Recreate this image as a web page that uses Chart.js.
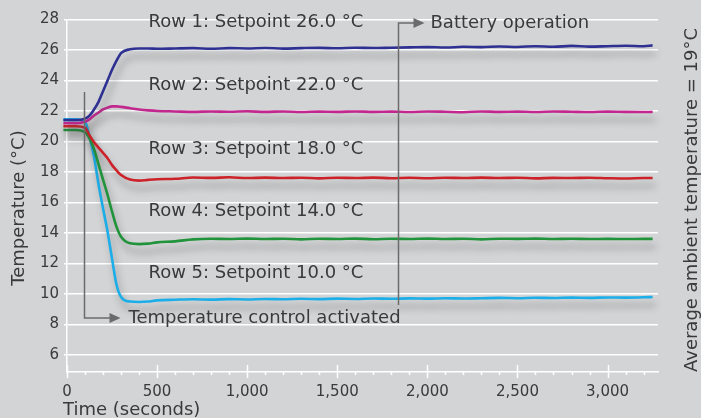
<!DOCTYPE html>
<html>
<head>
<meta charset="utf-8">
<title>Row temperatures</title>
<script src="https://cdn.jsdelivr.net/npm/chart.js@4"></script>
<style>
  html, body { margin: 0; padding: 0; background: #d3d4d6; }
  canvas { display: block; }
</style>
</head>
<body>
<canvas id="tempChart" width="701" height="418"></canvas>
<script>
// time in seconds (first point sits just left of the axis, like the original)
const times = [-20, 0, 50, 100, 125, 150, 175, 200, 225, 250, 275, 300, 350, 400, 450, 500,
  600, 700, 800, 900, 1000, 1100, 1200, 1300, 1400, 1500, 1600, 1700, 1800, 1900, 2000,
  2100, 2200, 2300, 2400, 2500, 2600, 2700, 2800, 2900, 3000, 3100, 3200, 3250];

const row1 = [21.4, 21.4, 21.4, 21.5, 21.7, 22.1, 22.6, 23.3, 24.0, 24.7, 25.3, 25.8, 26.05, 26.1, 26.1, 26.08,
  26.1, 26.12, 26.08, 26.12, 26.1, 26.13, 26.09, 26.12, 26.14, 26.11, 26.15, 26.13, 26.15, 26.17, 26.19,
  26.16, 26.21, 26.19, 26.23, 26.2, 26.25, 26.21, 26.27, 26.22, 26.25, 26.28, 26.25, 26.3];
const row2 = [21.2, 21.2, 21.2, 21.3, 21.45, 21.7, 21.9, 22.1, 22.22, 22.3, 22.3, 22.27, 22.18, 22.1, 22.04, 22.0,
  21.97, 21.94, 21.97, 21.95, 21.98, 21.94, 21.97, 21.93, 21.96, 21.94, 21.97, 21.94, 21.96, 21.93, 21.97,
  21.95, 21.92, 21.97, 21.94, 21.96, 21.93, 21.97, 21.95, 21.93, 21.96, 21.94, 21.93, 21.94];
const row3 = [21.0, 21.0, 21.0, 20.9, 20.4, 19.95, 19.6, 19.25, 18.9, 18.45, 18.1, 17.8, 17.5, 17.43, 17.48, 17.52,
  17.55, 17.64, 17.61, 17.65, 17.6, 17.63, 17.6, 17.62, 17.58, 17.62, 17.6, 17.63, 17.59, 17.62, 17.59,
  17.62, 17.6, 17.63, 17.6, 17.62, 17.58, 17.61, 17.6, 17.62, 17.59, 17.57, 17.6, 17.6];
const row4 = [20.75, 20.75, 20.75, 20.6, 20.2, 19.5, 18.5, 17.5, 16.5, 15.4, 14.4, 13.75, 13.32, 13.27, 13.3, 13.38,
  13.45, 13.58, 13.62, 13.6, 13.63, 13.6, 13.62, 13.58, 13.62, 13.6, 13.63, 13.59, 13.62, 13.6, 13.63,
  13.6, 13.62, 13.58, 13.62, 13.61, 13.63, 13.6, 13.62, 13.6, 13.61, 13.6, 13.61, 13.61];
const row5 = [21.45, 21.45, 21.45, 21.3, 20.3, 19.0, 17.2, 15.6, 14.1, 12.3, 10.6, 9.8, 9.5, 9.47, 9.5, 9.58,
  9.62, 9.65, 9.63, 9.66, 9.64, 9.67, 9.65, 9.68, 9.66, 9.69, 9.67, 9.7, 9.68, 9.71, 9.69,
  9.72, 9.7, 9.72, 9.74, 9.72, 9.75, 9.73, 9.76, 9.74, 9.77, 9.76, 9.78, 9.8];

const seriesNames = ["Row 1", "Row 2", "Row 3", "Row 4", "Row 5"];
const rowLabels = ["Row 1: Setpoint 26.0 °C", "Row 2: Setpoint 22.0 °C", "Row 3: Setpoint 18.0 °C",
  "Row 4: Setpoint 14.0 °C", "Row 5: Setpoint 10.0 °C"];
const rowLabelTemps = [27.84, 23.7, 19.5, 15.4, 11.35];
const rowLabelTime = 452;

const xTicks = [0, 500, 1000, 1500, 2000, 2500, 3000];
const yTicks = [6, 7, 8, 9, 10, 11, 12, 13, 14, 15, 16, 17, 18, 19, 20, 21, 22, 23, 24, 25, 26, 27, 28];

// events marked with arrows
const controlTime = 95;    // temperature control activated
const batteryTime = 1835;  // battery operation

const colors = ["#2e3192", "#c2278e", "#cc2229", "#21933b", "#1baee8"];
const bg = "#d3d4d6";
const textColor = "#3a3a3a";
const arrowColor = "#6b6b6b";

function toPoints(values) {
  return values.map((v, i) => ({ x: times[i], y: v }));
}

const allRows = [row1, row2, row3, row4, row5];

// paint background
const backgroundPlugin = {
  id: "background",
  beforeDraw(chart) {
    const ctx = chart.ctx;
    ctx.save();
    ctx.fillStyle = bg;
    ctx.fillRect(0, 0, chart.width, chart.height);
    ctx.restore();
  },
};

// soft drop shadow under each line
const shadowPlugin = {
  id: "lineShadow",
  beforeDatasetDraw(chart) {
    const ctx = chart.ctx;
    ctx.save();
    ctx.shadowColor = "rgba(70,70,70,0.45)";
    ctx.shadowBlur = 7;
    ctx.shadowOffsetX = 3;
    ctx.shadowOffsetY = 8;
  },
  afterDatasetDraw(chart) {
    chart.ctx.restore();
  },
};

function arrowHead(ctx, x, y) {
  ctx.beginPath();
  ctx.moveTo(x - 11, y - 5);
  ctx.lineTo(x, y);
  ctx.lineTo(x - 11, y + 5);
  ctx.closePath();
  ctx.fill();
}

// x tick marks, annotations and the axis titles
const annotationPlugin = {
  id: "annotations",
  afterDatasetsDraw(chart) {
    const ctx = chart.ctx;
    const xs = chart.scales.x;
    const ys = chart.scales.y;
    const area = chart.chartArea;
    ctx.save();

    // x axis tick marks
    ctx.strokeStyle = "#ffffff";
    ctx.lineWidth = 1.5;
    for (let t = 0; t <= 3200; t += 100) {
      const px = Math.round(xs.getPixelForValue(t)) + 0.5;
      const major = t % 500 === 0;
      ctx.beginPath();
      ctx.moveTo(px, area.bottom - (major ? 7 : 1));
      ctx.lineTo(px, area.bottom + (major ? 6 : 3));
      ctx.stroke();
    }

    // row labels
    ctx.fillStyle = textColor;
    ctx.font = '18px "DejaVu Sans"';
    ctx.textBaseline = "middle";
    ctx.textAlign = "left";
    rowLabels.forEach((label, i) => {
      ctx.fillText(label, xs.getPixelForValue(rowLabelTime), ys.getPixelForValue(rowLabelTemps[i]));
    });

    // temperature control activated
    ctx.strokeStyle = arrowColor;
    ctx.fillStyle = arrowColor;
    ctx.lineWidth = 1.5;
    let cx = Math.round(xs.getPixelForValue(controlTime)) + 0.5;
    let top = ys.getPixelForValue(23.25);
    let bottom = ys.getPixelForValue(8.42);
    ctx.beginPath();
    ctx.moveTo(cx, top);
    ctx.lineTo(cx, bottom);
    ctx.lineTo(cx + 26, bottom);
    ctx.stroke();
    arrowHead(ctx, cx + 36, bottom);
    ctx.fillStyle = textColor;
    ctx.fillText("Temperature control activated", cx + 44, bottom);

    // battery operation
    ctx.fillStyle = arrowColor;
    cx = Math.round(xs.getPixelForValue(batteryTime)) + 0.5;
    top = ys.getPixelForValue(27.77);
    bottom = ys.getPixelForValue(9.28);
    ctx.beginPath();
    ctx.moveTo(cx, bottom);
    ctx.lineTo(cx, top);
    ctx.lineTo(cx + 16, top);
    ctx.stroke();
    arrowHead(ctx, cx + 26, top);
    ctx.fillStyle = textColor;
    ctx.fillText("Battery operation", cx + 32, top);

    // axis titles
    ctx.fillText("Time (seconds)", 63, 410);
    ctx.save();
    ctx.translate(19, 208);
    ctx.rotate(-Math.PI / 2);
    ctx.textAlign = "center";
    ctx.fillText("Temperature (°C)", 0, 0);
    ctx.restore();
    ctx.save();
    ctx.translate(692, 200);
    ctx.rotate(-Math.PI / 2);
    ctx.textAlign = "center";
    ctx.fillText("Average ambient temperature = 19°C", 0, 0);
    ctx.restore();

    ctx.restore();
  },
};

const ctx = document.getElementById("tempChart").getContext("2d");
const tempChart = new Chart(ctx, {
  type: "line",
  data: {
    datasets: allRows.map((values, i) => ({
      label: seriesNames[i],
      data: toPoints(values),
      borderColor: colors[i],
      borderWidth: 2.6,
      pointRadius: 0,
      cubicInterpolationMode: "monotone",
      fill: false,
      clip: false,
    })),
  },
  options: {
    responsive: false,
    animation: false,
    devicePixelRatio: 1,
    layout: { padding: { left: 0, right: 43, top: 19.5, bottom: 0 } },
    plugins: {
      legend: { display: false },
      tooltip: { enabled: false },
    },
    scales: {
      x: {
        type: "linear",
        min: 0,
        max: 3280,
        afterBuildTicks: (scale) => { scale.ticks = xTicks.map((v) => ({ value: v })); },
        afterFit: (scale) => { scale.height = 46; },
        grid: { display: false, drawTicks: false },
        border: { display: true, color: "#ffffff", width: 1.5 },
        ticks: {
          padding: 11,
          color: textColor,
          font: { family: "DejaVu Sans", size: 15 },
          maxRotation: 0,
          callback: (v) => v.toLocaleString("en-US"),
        },
      },
      y: {
        min: 4.88,
        max: 28,
        afterBuildTicks: (scale) => { scale.ticks = yTicks.map((v) => ({ value: v })); },
        afterFit: (scale) => { scale.width = 67; },
        grid: { color: "#ffffff", lineWidth: 1.5, tickLength: 3 },
        border: { display: true, color: "#ffffff", width: 1.5 },
        ticks: {
          padding: 5,
          color: textColor,
          font: { family: "DejaVu Sans", size: 15 },
          callback: (v) => (v % 2 === 0 ? String(v) : ""),
        },
      },
    },
  },
  plugins: [backgroundPlugin, shadowPlugin, annotationPlugin],
});
</script>
</body>
</html>
